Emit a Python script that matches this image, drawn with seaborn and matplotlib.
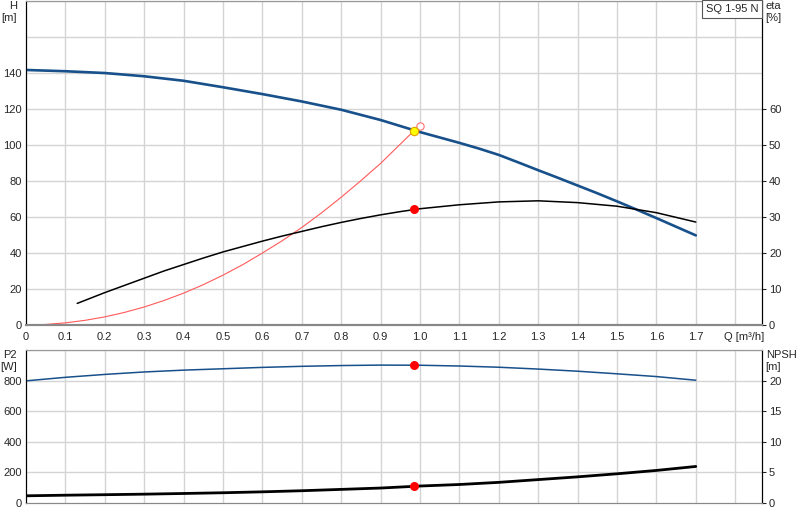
import matplotlib
matplotlib.use("Agg")
import matplotlib.pyplot as plt
import seaborn as sns
import numpy as np

# données
q_h = [0.0, 0.1, 0.2, 0.3, 0.4, 0.5, 0.6, 0.7, 0.8, 0.9, 1.0, 1.1, 1.15, 1.2, 1.25, 1.3, 1.35,
       1.4, 1.45, 1.5, 1.55, 1.6, 1.65, 1.7]
h_m = [141.7, 141.0, 140.0, 138.2, 135.7, 132.1, 128.3, 124.2, 119.6, 113.9, 107.2, 101.2, 98.0,
       94.5, 90.3, 86.0, 81.8, 77.5, 73.2, 68.7, 64.1, 59.4, 54.6, 49.8]

q_eta = [0.13, 0.2, 0.25, 0.3, 0.35, 0.4, 0.45, 0.5, 0.55, 0.6, 0.65, 0.7, 0.75, 0.8, 0.85, 0.9,
         0.95, 1.0, 1.1, 1.2, 1.3, 1.4, 1.5, 1.6, 1.7]
eta_pct = [6.0, 9.0, 11.0, 13.0, 15.0, 16.8, 18.6, 20.3, 21.8, 23.3, 24.7, 26.0, 27.3, 28.5, 29.6,
           30.6, 31.5, 32.3, 33.4, 34.2, 34.5, 34.0, 33.0, 31.2, 28.6]

q_sys = [0.0, 0.05, 0.1, 0.15, 0.2, 0.25, 0.3, 0.35, 0.4, 0.45, 0.5, 0.55, 0.6, 0.65, 0.7, 0.75,
         0.8, 0.85, 0.9, 0.95, 0.985, 1.0]
h_sys = [0.0, 0.3, 1.2, 2.6, 4.5, 7.0, 10.0, 13.6, 17.7, 22.4, 27.7, 33.5, 40.0, 46.8, 54.2, 62.3,
         71.0, 80.2, 89.8, 100.5, 108.0, 110.7]

q_p = [0.0, 0.1, 0.2, 0.3, 0.4, 0.5, 0.6, 0.7, 0.8, 0.9, 1.0, 1.1, 1.2, 1.3, 1.4, 1.5, 1.6, 1.7]
p2_w = [798, 821, 840, 856, 868, 877, 886, 893, 898, 901, 900, 895, 887, 875, 861, 844, 826, 802]
npsh_m = [1.15, 1.25, 1.33, 1.42, 1.53, 1.65, 1.8, 1.98, 2.2, 2.42, 2.75, 3.0, 3.35, 3.8, 4.25, 4.75, 5.3, 5.95]

# point de fonctionnement
q_op = 0.985
h_op = 108.0
eta_op = 32.1
p2_op = 900
npsh_op = 2.78
q_end, h_end = 1.0, 110.7

blue = "#17508a"
grid_col = "#d4d4d4"

sns.set_style("white")
plt.rcParams["font.family"] = ["Liberation Sans", "DejaVu Sans"]
plt.rcParams["font.size"] = 8

fig = plt.figure(figsize=(8, 5.2), dpi=100)
ax = fig.add_axes([0.0325, 0.375, 0.92, 0.623])
ax2 = ax.twinx()
bx = fig.add_axes([0.0325, 0.033, 0.92, 0.294])
bx2 = bx.twinx()

xmax = 1.868
xgrid = np.arange(0.1, 1.81, 0.1)

# --- panneau du haut ---
for a in (ax, ax2):
    a.set_xlim(0, xmax)
ax.set_ylim(0, 180)
ax2.set_ylim(0, 90)
for x in xgrid:
    ax.axvline(x, color=grid_col, lw=1, zorder=0)
for y in range(20, 181, 20):
    ax.axhline(y, color=grid_col, lw=1, zorder=0)

sns.lineplot(x=q_sys, y=h_sys, ax=ax, color="#ff5a5a", lw=0.8, zorder=3)
sns.lineplot(x=q_h, y=h_m, ax=ax, color=blue, lw=1.9, zorder=4)
sns.lineplot(x=q_eta, y=eta_pct, ax=ax2, color="black", lw=1.1, zorder=4)
ax.scatter([q_end], [h_end], s=28, facecolor="white", edgecolor="#ff7070", lw=0.8, zorder=5)
ax.scatter([q_op], [h_op], s=36, facecolor="#ffff00", edgecolor="#e0a000", lw=0.8, zorder=6)
ax2.scatter([q_op], [eta_op], s=30, color="red", zorder=6)

ax.set_yticks(range(0, 141, 20))
ax2.set_yticks(range(0, 61, 10))
ax.set_xticks(np.round(np.arange(0, 1.71, 0.1), 1))
ax.set_xticklabels(["0"] + [f"{v:.1f}" for v in np.arange(0.1, 1.71, 0.1)])
ax.tick_params(axis="y", length=0, pad=3)
ax.tick_params(axis="x", length=3, pad=2, color="#888888")
ax2.tick_params(axis="y", length=3, pad=2, direction="out")
ax.text(1.772, -4, "Q [m³/h]", ha="left", va="top", fontsize=8)

ax.text(-0.012, 1.0, "H\n[m]", transform=ax.transAxes, ha="right", va="top", fontsize=8, linespacing=1.3)
ax2.text(1.005, 1.0, "eta\n[%]", transform=ax2.transAxes, ha="left", va="top", fontsize=8, linespacing=1.3)
ax2.text(0.995, 0.99, "SQ 1-95 N", transform=ax2.transAxes, ha="right", va="top", fontsize=8,
         bbox=dict(boxstyle="square,pad=0.35", facecolor="white", edgecolor="#555555", lw=0.8), zorder=10)

for a in (ax, ax2):
    a.spines["top"].set_color("#999999")
    a.spines["bottom"].set_color("#888888")
    a.spines["bottom"].set_linewidth(1.5)
    a.spines["left"].set_color("black")
    a.spines["right"].set_color("black")

# --- panneau du bas ---
for a in (bx, bx2):
    a.set_xlim(0, xmax)
bx.set_ylim(0, 1000)
bx2.set_ylim(0, 25)
for x in xgrid:
    bx.axvline(x, color=grid_col, lw=1, zorder=0)
for y in range(200, 1001, 200):
    bx.axhline(y, color=grid_col, lw=1, zorder=0)

sns.lineplot(x=q_p, y=p2_w, ax=bx, color=blue, lw=1.1, zorder=4)
sns.lineplot(x=q_p, y=npsh_m, ax=bx2, color="black", lw=2.0, zorder=4)
bx.scatter([q_op], [p2_op], s=30, color="red", zorder=6)
bx2.scatter([q_op], [npsh_op], s=30, color="red", zorder=6)

bx.set_yticks(range(0, 801, 200))
bx2.set_yticks(range(0, 21, 5))
bx.set_xticks([])
bx.tick_params(axis="y", length=0, pad=3)
bx2.tick_params(axis="y", length=3, pad=2, direction="out")
bx.text(-0.012, 1.0, "P2\n[W]", transform=bx.transAxes, ha="right", va="top", fontsize=8, linespacing=1.3)
bx2.text(1.005, 1.0, "NPSH\n[m]", transform=bx2.transAxes, ha="left", va="top", fontsize=8, linespacing=1.3)

for a in (bx, bx2):
    a.spines["top"].set_color("#999999")
    a.spines["bottom"].set_color("#888888")
    a.spines["left"].set_color("black")
    a.spines["right"].set_color("black")

fig.savefig("out.png", dpi=100)
